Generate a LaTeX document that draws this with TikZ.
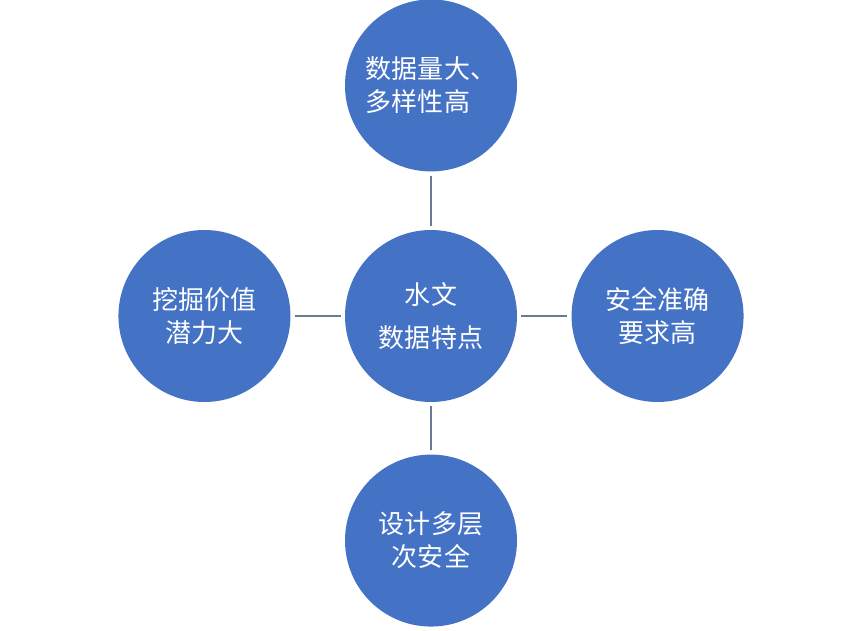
\documentclass[tikz,border=0pt]{standalone}
\usepackage{fontspec}
\setmainfont{Noto Sans CJK SC}
\usepackage{tikz}
\usetikzlibrary{positioning}
\definecolor{Disc}{HTML}{4472C4}
\definecolor{Link}{HTML}{687A96}
\begin{document}
\begin{tikzpicture}[
  node distance=1.35cm,
  disc/.style={circle, fill=Disc, draw=none, minimum size=4.3cm, inner sep=0pt, align=center, text=white, font=\fontsize{18.5pt}{23.5pt}\selectfont},
  hub/.style={disc, font=\fontsize{18.5pt}{30pt}\selectfont},
  link/.style={draw=Link, line width=1.4pt, shorten >=0.1cm, shorten <=0.1cm}
]
\useasboundingbox (0,0) rectangle (21.5,15.75);
\node[hub] (c) at (10.775,7.85) {水文\\数据特点};
\node[disc, align=left, above=1.45cm of c] (t) {数据量大、\\多样性高};
\node[disc, left=of c] (l) {挖掘价值\\潜力大};
\node[disc, right=of c] (r) {安全准确\\要求高};
\node[disc, below=1.3cm of c] (b) {设计多层\\次安全};
\draw[link] (t)--(c);
\draw[link] (l)--(c);
\draw[link] (c)--(r);
\draw[link] (c)--(b);
\end{tikzpicture}
\end{document}
